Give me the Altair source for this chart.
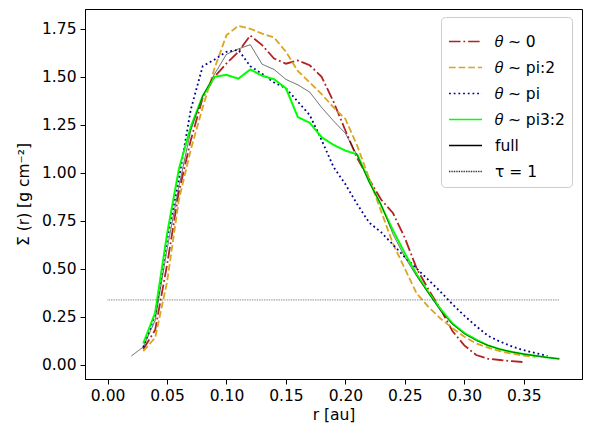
import altair as alt
import pandas as pd

# ---- data ----
series_names = ["𝜃 ∼ 0", "𝜃 ∼ pi:2", "𝜃 ∼ pi", "𝜃 ∼ pi3:2", "full", "τ = 1"]

r_red = [round(0.03 + 0.01 * i, 2) for i in range(33)]
sig_red = [0.08, 0.18, 0.52, 0.90, 1.17, 1.39, 1.50, 1.57, 1.63, 1.715, 1.665, 1.595,
           1.568, 1.585, 1.56, 1.50, 1.37, 1.22, 1.075, 0.965, 0.86, 0.79, 0.66, 0.50,
           0.39, 0.29, 0.175, 0.10, 0.05, 0.03, 0.024, 0.018, 0.013]

r_orange = [round(0.03 + 0.01 * i, 2) for i in range(34)]
sig_orange = [0.07, 0.14, 0.43, 0.86, 1.12, 1.34, 1.545, 1.717, 1.765, 1.75, 1.725, 1.705,
              1.63, 1.53, 1.47, 1.41, 1.34, 1.28, 1.14, 0.97, 0.80, 0.63, 0.50, 0.37,
              0.30, 0.24, 0.19, 0.145, 0.11, 0.088, 0.07, 0.057, 0.047, 0.04]

r_blue = [round(0.03 + 0.01 * i, 2) for i in range(35)]
sig_blue = [0.09, 0.26, 0.65, 0.97, 1.33, 1.555, 1.59, 1.63, 1.64, 1.555, 1.515, 1.47,
            1.44, 1.37, 1.30, 1.17, 1.03, 0.94, 0.835, 0.74, 0.69, 0.625, 0.56, 0.50,
            0.44, 0.38, 0.315, 0.255, 0.20, 0.15, 0.12, 0.095, 0.075, 0.06, 0.045]

r_green = [round(0.03 + 0.01 * i, 2) for i in range(36)]
sig_green = [0.11, 0.27, 0.68, 1.02, 1.24, 1.40, 1.50, 1.51, 1.49, 1.538, 1.505, 1.487,
             1.44, 1.29, 1.26, 1.185, 1.145, 1.115, 1.095, 0.955, 0.83, 0.70, 0.58, 0.47,
             0.375, 0.29, 0.215, 0.165, 0.13, 0.10, 0.08, 0.066, 0.055, 0.046, 0.037, 0.03]

r_full = [round(0.02 + 0.01 * i, 2) for i in range(37)]
sig_full = [0.045, 0.092, 0.23, 0.60, 0.93, 1.22, 1.40, 1.515, 1.617, 1.645, 1.667, 1.565,
            1.538, 1.486, 1.458, 1.42, 1.34, 1.27, 1.205, 1.09, 0.95, 0.835, 0.68, 0.56,
            0.46, 0.37, 0.28, 0.21, 0.16, 0.125, 0.10, 0.08, 0.066, 0.055, 0.046, 0.037, 0.03]

r_tau = [0.0, 0.38]
sig_tau = [0.337, 0.337]

colors = ["#b22222", "#daa520", "#00008b", "#00ff00", "#000000", "#000000"]
dashes = [[11.5, 2.9, 1.8, 2.9], [6.7, 2.9], [1.8, 2.9], [1, 0], [1, 0], [0.8, 0.9]]
widths = [1.8, 1.8, 1.8, 2.0, 0.6, 0.6]

x_ticks = [0.0, 0.05, 0.10, 0.15, 0.20, 0.25, 0.30, 0.35]
y_ticks = [0.0, 0.25, 0.50, 0.75, 1.00, 1.25, 1.50, 1.75]

rows = []
for name, w, rr, ss in zip(series_names, widths,
                           [r_red, r_orange, r_blue, r_green, r_full, r_tau],
                           [sig_red, sig_orange, sig_blue, sig_green, sig_full, sig_tau]):
    for a, b in zip(rr, ss):
        rows.append({"series": name, "r": a, "sigma": b, "lw": w})
df = pd.DataFrame(rows)

font = "DejaVu Sans"

chart = alt.Chart(df).mark_line(clip=True).encode(
    x=alt.X("r:Q", title="r [au]",
            scale=alt.Scale(domain=[-0.019, 0.399], nice=False, zero=False),
            axis=alt.Axis(values=x_ticks, format=".2f")),
    y=alt.Y("sigma:Q", title="Σ (r) [g cm⁻²]",
            scale=alt.Scale(domain=[-0.075, 1.853], nice=False, zero=False),
            axis=alt.Axis(values=y_ticks, format=".2f")),
    color=alt.Color("series:N", title=None,
                    scale=alt.Scale(domain=series_names, range=colors)),
    strokeDash=alt.StrokeDash("series:N", title=None,
                              scale=alt.Scale(domain=series_names, range=dashes)),
    strokeWidth=alt.StrokeWidth("lw:Q", scale=None),
    detail="series:N",
).properties(
    width=497, height=370,
    autosize="none",
    padding={"left": 85, "top": 9, "right": 9, "bottom": 55},
).configure_view(
    stroke="black", strokeWidth=1
).configure_axis(
    grid=False, domainColor="black", tickColor="black", labelColor="black",
    titleColor="black", labelFont=font, titleFont=font, labelFontSize=15.5,
    titleFontSize=15.5, titleFontWeight="normal", tickSize=5, labelPadding=4,
    domainWidth=1,
).configure_axisY(
    titlePadding=10
).configure_axisX(
    titlePadding=4
).configure_legend(
    orient="none", legendX=356, legendY=8,
    padding=7, rowPadding=-8, symbolType="stroke", symbolSize=1089,
    symbolStrokeWidth=1.6,
    labelFont=font, labelFontSize=15.5, labelColor="black", labelOffset=12,
    fillColor="rgba(255,255,255,0.8)", strokeColor="#cccccc", cornerRadius=4,
    labelLimit=200,
)

chart.save("out.html", embed_options={"renderer": "svg", "actions": False})
